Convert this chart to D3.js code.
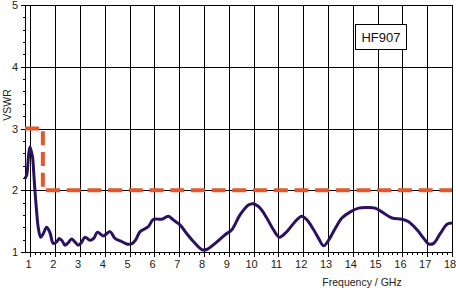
<!DOCTYPE html>
<html>
<head>
<meta charset="utf-8">
<script src="https://cdn.jsdelivr.net/npm/d3@7"></script>
<style>
  html, body { margin: 0; padding: 0; background: #fff; }
  svg { display: block; }
</style>
</head>
<body>
<svg id="chart" width="456" height="290"></svg>
<script>
// VSWR of HF907 vs frequency
const freq = [0.78, 0.85, 0.92, 0.98, 1.04, 1.09, 1.13, 1.18, 1.24, 1.31, 1.41, 1.52, 1.65, 1.78, 1.92,
  2.05, 2.16, 2.28, 2.39, 2.52, 2.66, 2.80, 2.93, 3.05, 3.20, 3.40, 3.55, 3.70, 3.94, 4.21, 4.41,
  4.68, 4.88, 5.08, 5.25, 5.42, 5.75, 5.96, 6.29, 6.56, 6.76, 7.03, 7.30, 7.57, 7.91, 8.11, 8.45,
  8.85, 9.12, 9.45, 9.79, 9.99, 10.26, 10.53, 10.80, 11.04, 11.34, 11.67, 11.94, 12.15, 12.42,
  12.62, 12.82, 13.02, 13.29, 13.56, 13.90, 14.23, 14.57, 14.90, 15.17, 15.58, 15.98, 16.25,
  16.59, 16.86, 17.06, 17.26, 17.53, 17.80, 18.00];
const vswr = [2.19, 2.25, 2.55, 2.70, 2.62, 2.52, 2.30, 2.00, 1.70, 1.41, 1.24, 1.30, 1.40, 1.32, 1.14,
  1.16, 1.22, 1.18, 1.11, 1.15, 1.21, 1.16, 1.11, 1.15, 1.24, 1.19, 1.22, 1.32, 1.26, 1.33, 1.22,
  1.17, 1.13, 1.13, 1.20, 1.33, 1.41, 1.53, 1.53, 1.58, 1.52, 1.44, 1.30, 1.17, 1.04, 1.04, 1.14,
  1.28, 1.36, 1.60, 1.76, 1.78, 1.71, 1.55, 1.36, 1.24, 1.33, 1.49, 1.58, 1.52, 1.36,
  1.22, 1.10, 1.19, 1.38, 1.55, 1.65, 1.71, 1.72, 1.71, 1.65, 1.55, 1.53, 1.49,
  1.36, 1.22, 1.13, 1.14, 1.30, 1.45, 1.47];

// limit mask: VSWR 3 up to 1.5 GHz, then 2
const limitFreq = [0.78, 1.5, 1.5, 18];
const limitVswr = [3, 3, 2, 2];

const xTicks = d3.range(1, 19);        // 1 .. 18 GHz
const yTicks = [1, 2, 3, 4, 5];
const xMinor = d3.range(1, 18.001, 0.2);
const yMinor = d3.range(1, 5.001, 0.2);
const legendLabel = 'HF907';

const svg = d3.select('#chart');
const font = 'Liberation Sans, Arial, sans-serif';

const x = d3.scaleLinear().domain([0.78, 18]).range([25, 452]);
const y = d3.scaleLinear().domain([1, 5]).range([252, 5]);

const grid = svg.append('g').attr('stroke', '#000').attr('stroke-width', 1).attr('shape-rendering', 'crispEdges');

// vertical gridlines at every GHz
grid.selectAll('.vg').data(xTicks).join('line')
  .attr('x1', d => Math.round(x(d)) + 0.5).attr('x2', d => Math.round(x(d)) + 0.5)
  .attr('y1', y(5)).attr('y2', y(1));
// horizontal gridlines
grid.selectAll('.hg').data(yTicks.slice(1)).join('line')
  .attr('x1', x.range()[0]).attr('x2', x.range()[1])
  .attr('y1', d => Math.round(y(d)) + 0.5).attr('y2', d => Math.round(y(d)) + 0.5);

// axis lines
grid.append('line').attr('x1', 25.5).attr('x2', 25.5).attr('y1', y(5)).attr('y2', y(1));
grid.append('line').attr('x1', 21).attr('x2', x.range()[1]).attr('y1', 252.5).attr('y2', 252.5);

// ticks
grid.selectAll('.xm').data(xMinor).join('line')
  .attr('x1', d => Math.round(x(d)) + 0.5).attr('x2', d => Math.round(x(d)) + 0.5)
  .attr('y1', 252).attr('y2', d => Math.abs(d - Math.round(d)) < 1e-6 ? 257 : 255);
grid.selectAll('.ym').data(yMinor).join('line')
  .attr('y1', d => Math.round(y(d)) + 0.5).attr('y2', d => Math.round(y(d)) + 0.5)
  .attr('x1', d => Math.abs(d - Math.round(d)) < 1e-6 ? 21 : 23).attr('x2', 25);

// tick labels
svg.append('g').selectAll('text').data(xTicks).join('text')
  .attr('x', d => x(d) - 2).attr('y', 268)
  .attr('text-anchor', 'middle').attr('font-family', font).attr('font-size', 11)
  .attr('fill', '#222').text(d => d);
svg.append('g').selectAll('text').data(yTicks).join('text')
  .attr('x', 18).attr('y', d => y(d) + 4)
  .attr('text-anchor', 'end').attr('font-family', font).attr('font-size', 11)
  .attr('fill', '#222').text(d => d);

// axis titles
svg.append('text').attr('transform', 'translate(11,105) rotate(-90)')
  .attr('text-anchor', 'middle').attr('font-family', font).attr('font-size', 10.5)
  .attr('fill', '#222').text('VSWR');
svg.append('text').attr('x', 362).attr('y', 286)
  .attr('text-anchor', 'middle').attr('font-family', font).attr('font-size', 10.5)
  .attr('fill', '#222').text('Frequency / GHz');

// limit line (dashed)
const limit = d3.line().x(d => x(d[0])).y(d => y(d[1]));
svg.append('path')
  .attr('d', limit(d3.zip(limitFreq, limitVswr)))
  .attr('fill', 'none').attr('stroke', '#e2572b').attr('stroke-width', 4)
  .attr('stroke-dasharray', '14 6.7');

// measured curve
const curve = d3.line().x(d => x(d[0])).y(d => y(d[1])).curve(d3.curveCatmullRom);
svg.append('path')
  .attr('d', curve(d3.zip(freq, vswr)))
  .attr('fill', 'none').attr('stroke', '#2b1160').attr('stroke-width', 3)
  .attr('stroke-linejoin', 'round');

// legend box
const lg = svg.append('g').attr('transform', 'translate(355.5,24.5)');
lg.append('rect').attr('width', 51).attr('height', 25)
  .attr('fill', '#fff').attr('stroke', '#000').attr('stroke-width', 1);
lg.append('text').attr('x', 25.5).attr('y', 17.5).attr('text-anchor', 'middle')
  .attr('font-family', font).attr('font-size', 13).attr('fill', '#111').text(legendLabel);
</script>
</body>
</html>
